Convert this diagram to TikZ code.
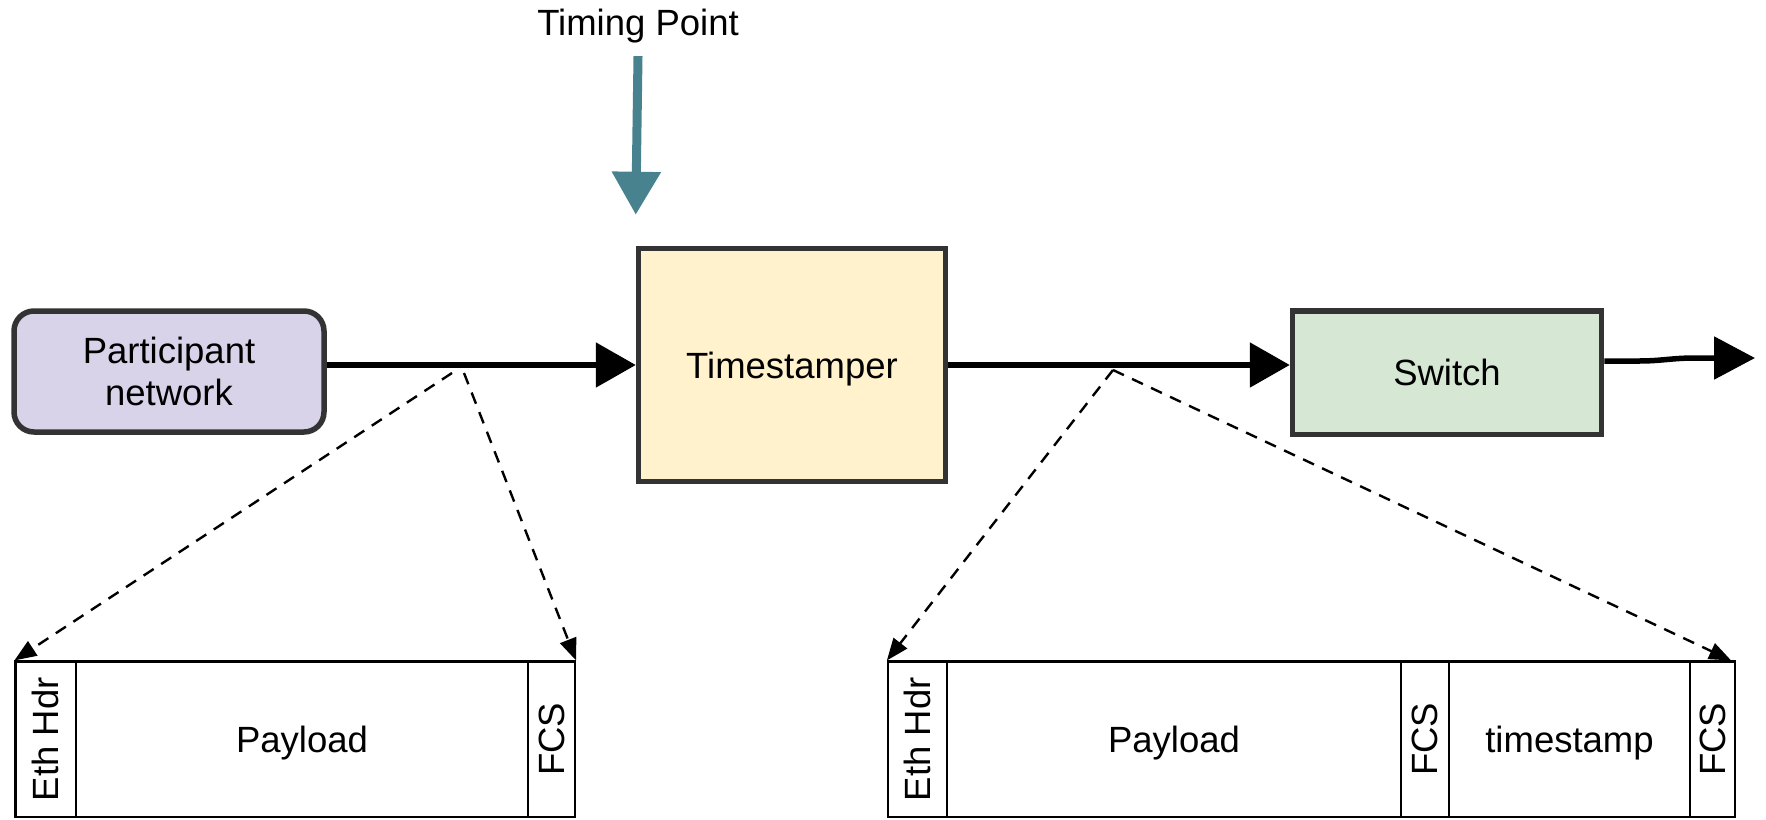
\documentclass[tikz,border=0pt]{standalone}
\usepackage{fontspec}
\usepackage{graphicx}
\setmainfont{Liberation Sans}
\usetikzlibrary{arrows.meta,calc}
\definecolor{tealarrow}{RGB}{73,130,143}
\definecolor{lavender}{RGB}{217,211,233}
\definecolor{cream}{RGB}{255,242,204}
\definecolor{mint}{RGB}{214,232,212}
\definecolor{edgegray}{RGB}{51,51,51}
\begin{document}
\begin{tikzpicture}[x=1pt,y=-1pt,
  every node/.style={font=\fontsize{36.5}{42}\selectfont},
  block/.style={draw=edgegray, line width=5.5pt, text depth=0pt, align=center, inner sep=0pt},
  flow/.style={line width=5.5pt, -{Triangle[length=40pt,width=44pt]}},
  zoomline/.style={line width=2.4pt, dash pattern=on 12pt off 9pt, -{Triangle[length=22pt,width=17pt]}},
  cell/.style={draw, line width=2.2pt, inner sep=0pt, minimum height=155.5pt, text depth=0pt}]
\useasboundingbox (0,0) rectangle (1766,819);

% processing chain
\node[block, rounded corners=20pt, fill=lavender, minimum width=310pt, minimum height=121pt] (pn) at (169,371.5) {Participant\\network};
\node[block, fill=cream, minimum width=307pt, minimum height=233pt] (ts) at (792,365) {Timestamper};
\node[block, fill=mint, minimum width=309pt, minimum height=123.5pt] (sw) at (1447,372.7) {Switch};
\node[anchor=base] (tp) at (638,35) {Timing Point};

\draw[flow] (pn.east |- ts.west) -- (ts.west);
\draw[flow] (ts.east) -- (ts.east -| sw.west);
\coordinate (exit) at (1755,358);
\draw[line width=5.5pt, -{Triangle[length=41pt,width=42pt]}] ([yshift=11.7pt]sw.east) -- ++(35,0) to[out=0,in=180] ++(55,-3) -- (exit);

% timing point marker
\draw[line width=9pt, tealarrow, -{Triangle[length=43pt,width=47pt]}] ([yshift=-10pt]tp.south) -- ([yshift=31pt]ts.north west);

% frame before the timestamper
\node[cell, minimum width=60.5pt] (f1a) at (45.75,739.3) {\rotatebox{90}{Eth Hdr}};
\node[cell, minimum width=452pt] (f1b) at (302,739.3) {Payload};
\node[cell, minimum width=47pt] (f1c) at (551.5,739.3) {\rotatebox{90}{FCS}};

% frame after the timestamper
\node[cell, minimum width=59pt] (f2a) at (917.5,739.3) {\rotatebox{90}{Eth Hdr}};
\node[cell, minimum width=454pt] (f2b) at (1174,739.3) {Payload};
\node[cell, minimum width=48pt] (f2c) at (1425,739.3) {\rotatebox{90}{FCS}};
\node[cell, minimum width=241pt] (f2d) at (1569.5,739.3) {timestamp};
\node[cell, minimum width=45pt] (f2e) at (1712.5,739.3) {\rotatebox{90}{FCS}};

% expansion lines from the links to the frames
\coordinate (tapL1) at (452,373);
\coordinate (tapL2) at (464,373);
\coordinate (tapR) at (1113,370);
\draw[zoomline] (tapL1) -- (f1a.north west);
\draw[zoomline] (tapL2) -- (f1c.north east);
\draw[zoomline] (tapR) -- (f2a.north west);
\draw[zoomline] (tapR) -- ([xshift=-5pt]f2e.north east);
\end{tikzpicture}
\end{document}
